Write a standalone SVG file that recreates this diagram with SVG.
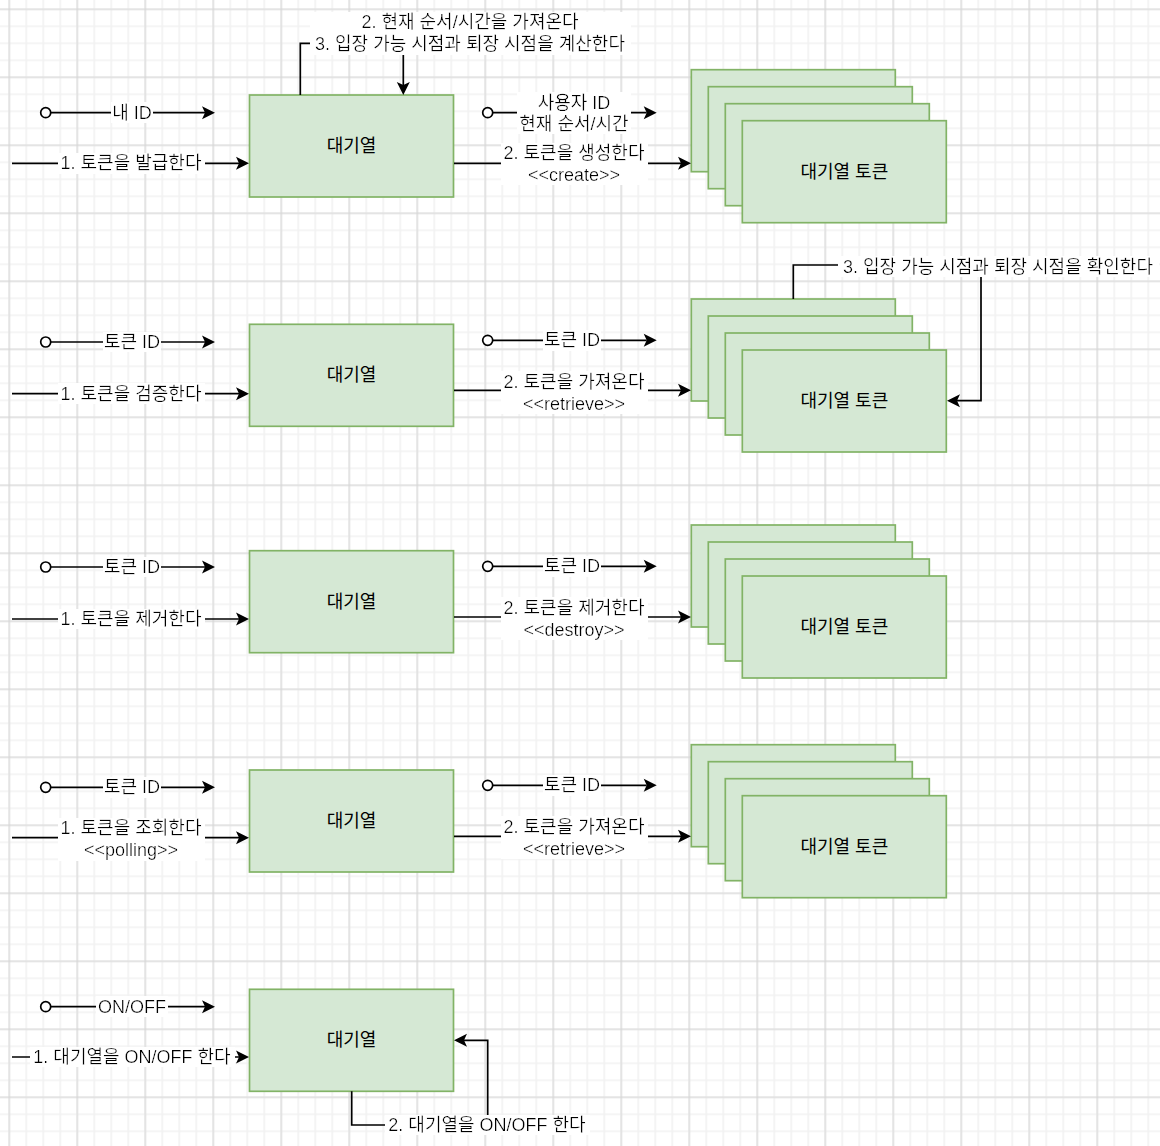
<svg xmlns="http://www.w3.org/2000/svg" width="1160" height="1146" viewBox="0 0 1160 1146">
<style>
.t{font-family:"Liberation Sans","Noto Sans CJK KR",sans-serif;font-size:18px;fill:#000;text-anchor:middle;dominant-baseline:central}
.lb{filter:url(#lbg)}
.box{fill:#d5e8d4;stroke:#82b366;stroke-width:1.7}
.ln{fill:none;stroke:#000;stroke-width:1.7}
.ar{marker-end:url(#arr)}
.dot{fill:#fff;stroke:#000;stroke-width:1.7}
</style>
<defs>
<pattern id="gMinor" x="1.3" y="1.3" width="17" height="17" patternUnits="userSpaceOnUse"><path d="M8 0V17M0 8H17" stroke="#f2f2f2" stroke-width="1.6" fill="none"/></pattern>
<pattern id="gMajor" x="1.3" y="1.3" width="68" height="68" patternUnits="userSpaceOnUse"><path d="M8 0V68M0 8H68" stroke="#d3d3d3" stroke-width="1" fill="none"/></pattern>
<marker id="arr" markerUnits="userSpaceOnUse" markerWidth="14" markerHeight="14" refX="3" refY="7" orient="auto" overflow="visible"><path d="M0,0.5 L13,7 L0,13.5 L3,7 Z" fill="#000"/></marker>
<filter id="lbg" x="-0.015" y="0" width="1.03" height="1"><feFlood flood-color="#ffffff"/><feComposite in="SourceGraphic" operator="over"/></filter>
</defs>
<rect width="1160" height="1146" fill="#fff"/>
<rect width="1160" height="1146" fill="url(#gMinor)"/>
<rect width="1160" height="1146" fill="url(#gMajor)"/>

<g id="nodes">
<g id="queue1"><rect class="box" x="249.5" y="95" width="204" height="102"/><text class="t" x="351.5" y="146">대기열</text></g>
<g id="tokens1"><rect class="box" x="691.3" y="69.7" width="204" height="102"/><rect class="box" x="708.3" y="86.7" width="204" height="102"/><rect class="box" x="725.3" y="103.7" width="204" height="102"/><rect class="box" x="742.3" y="120.7" width="204" height="102"/><text class="t" x="844.3" y="171.7">대기열 토큰</text></g>
<g id="queue2"><rect class="box" x="249.5" y="324.3" width="204" height="102"/><text class="t" x="351.5" y="375.3">대기열</text></g>
<g id="tokens2"><rect class="box" x="691.3" y="299" width="204" height="102"/><rect class="box" x="708.3" y="316" width="204" height="102"/><rect class="box" x="725.3" y="333" width="204" height="102"/><rect class="box" x="742.3" y="350" width="204" height="102"/><text class="t" x="844.3" y="401">대기열 토큰</text></g>
<g id="queue3"><rect class="box" x="249.5" y="550.7" width="204" height="102"/><text class="t" x="351.5" y="601.7">대기열</text></g>
<g id="tokens3"><rect class="box" x="691.3" y="525" width="204" height="102"/><rect class="box" x="708.3" y="542" width="204" height="102"/><rect class="box" x="725.3" y="559" width="204" height="102"/><rect class="box" x="742.3" y="576" width="204" height="102"/><text class="t" x="844.3" y="627">대기열 토큰</text></g>
<g id="queue4"><rect class="box" x="249.5" y="770" width="204" height="102"/><text class="t" x="351.5" y="821">대기열</text></g>
<g id="tokens4"><rect class="box" x="691.3" y="744.7" width="204" height="102"/><rect class="box" x="708.3" y="761.7" width="204" height="102"/><rect class="box" x="725.3" y="778.7" width="204" height="102"/><rect class="box" x="742.3" y="795.7" width="204" height="102"/><text class="t" x="844.3" y="846.7">대기열 토큰</text></g>
<g id="queue5"><rect class="box" x="249.5" y="989.3" width="204" height="102"/><text class="t" x="351.5" y="1040.3">대기열</text></g>
</g>

<g id="connectors">
<!-- row 1 -->
<path class="ln ar" d="M50.7,112.7H205"/><circle class="dot" cx="45.7" cy="112.7" r="5"/>
<path class="ln ar" d="M12,163.3H239"/>
<path class="ln ar" d="M492.7,112.7H646.7"/><circle class="dot" cx="487.7" cy="112.7" r="5"/>
<path class="ln ar" d="M454,163.3H681"/>
<path class="ln ar" d="M300.3,95V43.3H403.3V85"/>
<!-- row 2 -->
<path class="ln ar" d="M50.7,342H205"/><circle class="dot" cx="45.7" cy="342" r="5"/>
<path class="ln ar" d="M12,393.7H239"/>
<path class="ln ar" d="M492.7,340.3H646.7"/><circle class="dot" cx="487.7" cy="340.3" r="5"/>
<path class="ln ar" d="M454,390.3H681"/>
<path class="ln ar" d="M793.3,299V265H981V400.7H957"/>
<!-- row 3 -->
<path class="ln ar" d="M50.7,567H205"/><circle class="dot" cx="45.7" cy="567" r="5"/>
<path class="ln ar" d="M12,619H239"/>
<path class="ln ar" d="M492.7,566.3H646.7"/><circle class="dot" cx="487.7" cy="566.3" r="5"/>
<path class="ln ar" d="M454,617H681"/>
<!-- row 4 -->
<path class="ln ar" d="M50.7,787.3H205"/><circle class="dot" cx="45.7" cy="787.3" r="5"/>
<path class="ln ar" d="M12,837.7H239"/>
<path class="ln ar" d="M492.7,785.3H646.7"/><circle class="dot" cx="487.7" cy="785.3" r="5"/>
<path class="ln ar" d="M454,836.3H681"/>
<!-- row 5 -->
<path class="ln ar" d="M50.7,1006.7H205"/><circle class="dot" cx="45.7" cy="1006.7" r="5"/>
<path class="ln ar" d="M12,1057H239"/>
<path class="ln ar" d="M351.7,1091.3V1125H487.7V1040.3H464"/>

<!-- labels -->
<text class="t lb" x="132" y="112.7">내 ID</text>
<text class="t lb" x="131" y="163.3">1. 토큰을 발급한다</text>
<text class="t lb"><tspan x="574" y="102.5">사용자 ID</tspan><tspan x="574" y="124">현재 순서/시간</tspan></text>
<text class="t lb"><tspan x="574" y="153.3">2. 토큰을 생성한다</tspan><tspan x="574" y="175">&lt;&lt;create&gt;&gt;</tspan></text>
<text class="t lb"><tspan x="470" y="22">2. 현재 순서/시간을 가져온다</tspan><tspan x="470" y="44.3">3. 입장 가능 시점과 퇴장 시점을 계산한다</tspan></text>

<text class="t lb" x="132" y="342">토큰 ID</text>
<text class="t lb" x="131" y="393.7">1. 토큰을 검증한다</text>
<text class="t lb" x="572" y="340.3">토큰 ID</text>
<text class="t lb"><tspan x="574" y="381.7">2. 토큰을 가져온다</tspan><tspan x="574" y="403.5">&lt;&lt;retrieve&gt;&gt;</tspan></text>
<text class="t lb" x="998" y="266.7">3. 입장 가능 시점과 퇴장 시점을 확인한다</text>

<text class="t lb" x="132" y="567">토큰 ID</text>
<text class="t lb" x="131" y="619">1. 토큰을 제거한다</text>
<text class="t lb" x="572" y="566.3">토큰 ID</text>
<text class="t lb"><tspan x="574" y="607.7">2. 토큰을 제거한다</tspan><tspan x="574" y="629.5">&lt;&lt;destroy&gt;&gt;</tspan></text>

<text class="t lb" x="132" y="787.3">토큰 ID</text>
<text class="t lb"><tspan x="131" y="828.3">1. 토큰을 조회한다</tspan><tspan x="131" y="850.3">&lt;&lt;polling&gt;&gt;</tspan></text>
<text class="t lb" x="572" y="785.3">토큰 ID</text>
<text class="t lb"><tspan x="574" y="826.7">2. 토큰을 가져온다</tspan><tspan x="574" y="848.7">&lt;&lt;retrieve&gt;&gt;</tspan></text>

<text class="t lb" x="132" y="1006.7">ON/OFF</text>
<text class="t lb" x="132" y="1057">1. 대기열을 ON/OFF 한다</text>
<text class="t lb" x="487" y="1125">2. 대기열을 ON/OFF 한다</text>
</g>
</svg>
